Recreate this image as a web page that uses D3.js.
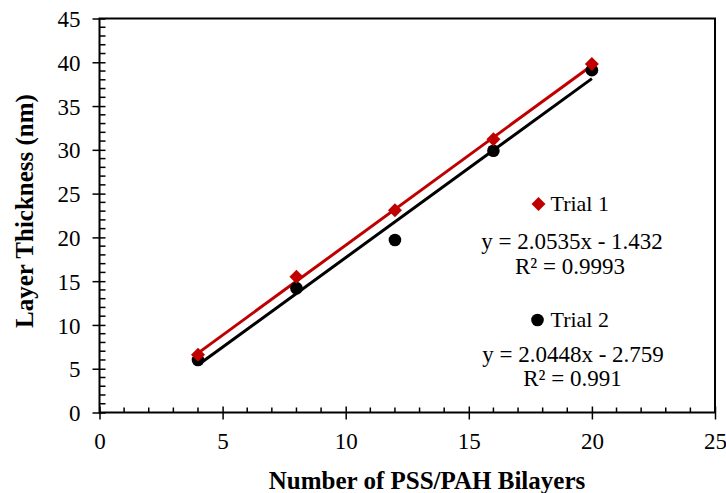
<!DOCTYPE html>
<html>
<head>
<meta charset="utf-8">
<script src="https://cdn.jsdelivr.net/npm/d3@7/dist/d3.min.js"></script>
<style>
  html, body { margin: 0; padding: 0; background: #fff; }
  svg { display: block; font-family: "Liberation Serif", "Times New Roman", serif; }
</style>
</head>
<body>
<svg id="chart" width="726" height="493"></svg>
<script>
// Layer thickness measured after each set of bilayers
const bilayers = [4, 8, 12, 16, 20];
const trial1 = [6.6, 15.5, 23.1, 31.2, 39.8];
const trial2 = [6.0, 14.2, 19.7, 29.9, 39.1];

// Linear fits (slope, intercept, R²)
const fit1 = { slope: 2.0535, intercept: -1.432, r2: "0.9993" };
const fit2 = { slope: 2.0448, intercept: -2.759, r2: "0.991" };

const xTicks = [0, 5, 10, 15, 20, 25];
const yTicks = [0, 5, 10, 15, 20, 25, 30, 35, 40, 45];

const svg = d3.select("#chart");
const plotLeft = 99.5, plotRight = 715, plotTop = 18.5, plotBottom = 412.5;
const serif = "Liberation Serif, Times New Roman, serif";

const x = d3.scaleLinear().domain([0, 25]).range([plotLeft, plotRight]);
const y = d3.scaleLinear().domain([0, 45]).range([plotBottom, plotTop]);

const red = "#c00000";

// plot frame
svg.append("rect")
  .attr("x", plotLeft).attr("y", plotTop)
  .attr("width", plotRight - plotLeft).attr("height", plotBottom - plotTop)
  .attr("fill", "none").attr("stroke", "#000").attr("stroke-width", 2);

// minor ticks (inside) every 1 unit
const xMinor = d3.range(1, 25).filter(v => v % 5 !== 0);
const yMinor = d3.range(1, 45).filter(v => v % 5 !== 0);

svg.append("g").selectAll("line").data(xMinor).join("line")
  .attr("x1", d => x(d)).attr("x2", d => x(d))
  .attr("y1", plotBottom).attr("y2", plotBottom - 5)
  .attr("stroke", "#000").attr("stroke-width", 1.5);

svg.append("g").selectAll("line").data(yMinor).join("line")
  .attr("y1", d => y(d)).attr("y2", d => y(d))
  .attr("x1", plotLeft).attr("x2", plotLeft + 6)
  .attr("stroke", "#000").attr("stroke-width", 1.5);

// major ticks crossing the axes
const xAxis = d3.axisBottom(x).tickValues(xTicks).tickSize(0).tickPadding(0);
const gx = svg.append("g").attr("transform", `translate(0,${plotBottom})`).call(xAxis);
gx.attr("font-family", serif).attr("font-size", 23);
gx.select(".domain").remove();
gx.selectAll(".tick line").remove();
gx.selectAll(".tick").append("line")
  .attr("y1", -6).attr("y2", 7).attr("stroke", "#000").attr("stroke-width", 1.5);
gx.selectAll(".tick text")
  .attr("y", 36).attr("dy", null).attr("fill", "#000");

const yAxis = d3.axisLeft(y).tickValues(yTicks).tickSize(0).tickPadding(0);
const gy = svg.append("g").attr("transform", `translate(${plotLeft},0)`).call(yAxis);
gy.attr("font-family", serif).attr("font-size", 23);
gy.select(".domain").remove();
gy.selectAll(".tick line").remove();
gy.selectAll(".tick").append("line")
  .attr("x1", -7).attr("x2", 6).attr("stroke", "#000").attr("stroke-width", 1.5);
gy.selectAll(".tick text")
  .attr("x", -19).attr("dy", "0.35em").attr("fill", "#000");

// trend lines
const xMin = d3.min(bilayers), xMax = d3.max(bilayers);
function trend(fit, color) {
  svg.append("line")
    .attr("x1", x(xMin)).attr("y1", y(fit.slope * xMin + fit.intercept))
    .attr("x2", x(xMax)).attr("y2", y(fit.slope * xMax + fit.intercept))
    .attr("stroke", color).attr("stroke-width", 3);
}
trend(fit2, "#000");
trend(fit1, red);

// markers
const diamond = d3.symbol().type(d3.symbolDiamond2).size(125);
svg.append("g").selectAll("circle").data(bilayers).join("circle")
  .attr("cx", d => x(d)).attr("cy", (d, i) => y(trial2[i]))
  .attr("r", 6.3).attr("fill", "#000");
svg.append("g").selectAll("path").data(bilayers).join("path")
  .attr("d", diamond)
  .attr("transform", (d, i) => `translate(${x(d)},${y(trial1[i])})`)
  .attr("fill", red);

// legend and fit equations
const fmt = f => `y = ${f.slope}x - ${Math.abs(f.intercept)}`;
const leg = svg.append("g").attr("font-family", serif).attr("font-size", 23).attr("fill", "#000");

leg.append("path").attr("d", diamond).attr("transform", "translate(538.5,204)").attr("fill", red);
leg.append("text").attr("x", 550.5).attr("y", 211).attr("font-size", 22).text("Trial 1");
leg.append("text").attr("x", 572).attr("y", 248.5).attr("text-anchor", "middle").text(fmt(fit1));
leg.append("text").attr("x", 570).attr("y", 274).attr("text-anchor", "middle").text(`R² = ${fit1.r2}`);

leg.append("circle").attr("cx", 537.5).attr("cy", 320).attr("r", 6.3).attr("fill", "#000");
leg.append("text").attr("x", 550.5).attr("y", 327).attr("font-size", 22).text("Trial 2");
leg.append("text").attr("x", 573).attr("y", 362).attr("text-anchor", "middle").text(fmt(fit2));
leg.append("text").attr("x", 572.5).attr("y", 385.5).attr("text-anchor", "middle").text(`R² = ${fit2.r2}`);

// axis titles
svg.append("text")
  .attr("x", 427).attr("y", 488.5)
  .attr("font-family", serif)
  .attr("text-anchor", "middle").attr("font-weight", "bold").attr("font-size", 25)
  .text("Number of PSS/PAH Bilayers");

svg.append("text")
  .attr("transform", "translate(33,211) rotate(-90)")
  .attr("font-family", serif)
  .attr("text-anchor", "middle").attr("font-weight", "bold").attr("font-size", 25)
  .text("Layer Thickness (nm)");
</script>
</body>
</html>
